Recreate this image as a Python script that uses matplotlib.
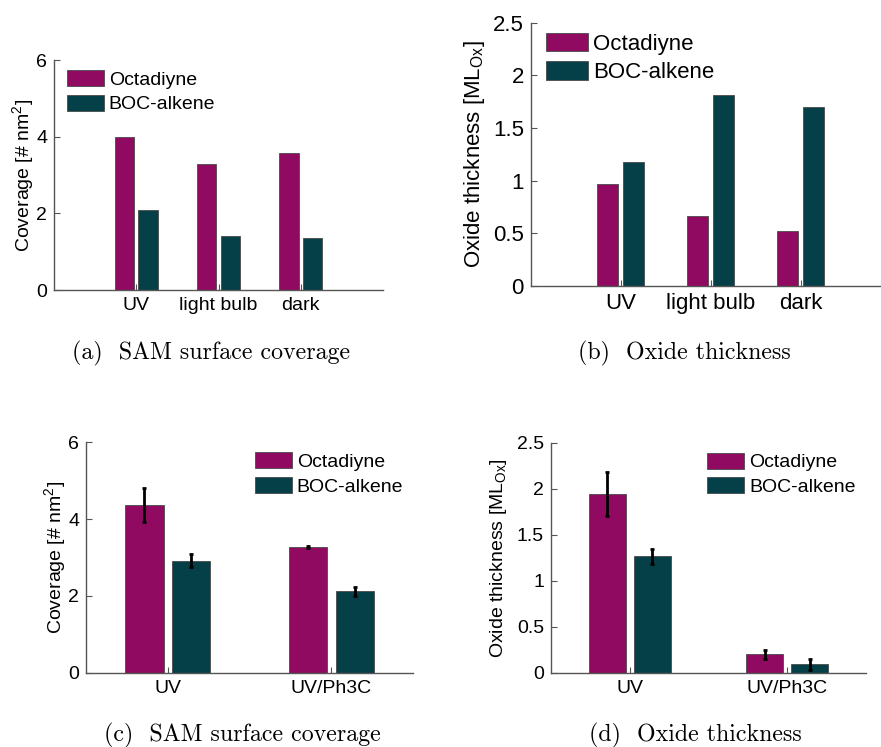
import matplotlib
matplotlib.use("Agg")
import matplotlib.pyplot as plt
import numpy as np

plt.rcParams["font.family"] = ["Liberation Sans", "DejaVu Sans"]
plt.rcParams["mathtext.fontset"] = "custom"
plt.rcParams["mathtext.rm"] = "Liberation Sans"
plt.rcParams["mathtext.it"] = "Liberation Sans:italic"

# Data
series = ["Octadiyne", "BOC-alkene"]
conds_top = ["UV", "light bulb", "dark"]
conds_bottom = ["UV", "UV/Ph3C"]

cov_top_octa = [4.0, 3.30, 3.58]
cov_top_boc = [2.10, 1.40, 1.36]

ox_top_octa = [0.97, 0.665, 0.52]
ox_top_boc = [1.18, 1.81, 1.70]

cov_bot_octa = [4.37, 3.27]
cov_bot_octa_err = [0.45, 0.03]
cov_bot_boc = [2.92, 2.12]
cov_bot_boc_err = [0.17, 0.11]

ox_bot_octa = [1.94, 0.20]
ox_bot_octa_err = [0.24, 0.05]
ox_bot_boc = [1.265, 0.09]
ox_bot_boc_err = [0.08, 0.06]

C_OCTA = "#8f0a60"
C_BOC = "#053f48"
AX_COLOR = "#555555"

fig = plt.figure(figsize=(8.81, 7.47), dpi=100)

W, H = 881.0, 747.0


def add_axes(left, right, top, bottom):
    return fig.add_axes([left / W, (H - bottom) / H, (right - left) / W, (bottom - top) / H])


def style(ax, fs):
    for s in ("top", "right"):
        ax.spines[s].set_visible(False)
    for s in ("left", "bottom"):
        ax.spines[s].set_color(AX_COLOR)
        ax.spines[s].set_linewidth(1.0)
    ax.tick_params(direction="in", length=4, width=0.8, color=AX_COLOR,
                   labelsize=fs, pad=5)


def draw(ax, cats, a, b, ea=None, eb=None, fs=14):
    x = np.arange(1, len(cats) + 1)
    w, off = 0.235, 0.143
    ax.bar(x - off, a, w, color=C_OCTA, edgecolor="#4a4a4a", linewidth=0.6, label=series[0])
    ax.bar(x + off, b, w, color=C_BOC, edgecolor="#4a4a4a", linewidth=0.6, label=series[1])
    if ea is not None:
        ax.errorbar(x - off, a, yerr=ea, fmt="none", ecolor="black", elinewidth=2.0,
                    capsize=1.5, capthick=2.0)
        ax.errorbar(x + off, b, yerr=eb, fmt="none", ecolor="black", elinewidth=2.0,
                    capsize=1.5, capthick=2.0)
    ax.set_xticks(x)
    ax.set_xticklabels(cats)
    style(ax, fs)


def legend(ax, fs, loc, anchor):
    ax.legend(loc=loc, bbox_to_anchor=anchor, frameon=False, fontsize=fs,
              handlelength=1.9, handleheight=0.9, handletextpad=0.25,
              labelspacing=0.3, borderaxespad=0.0, borderpad=0.0)


# (a) SAM surface coverage, three conditions
ax_a = add_axes(54, 383, 60, 290)
draw(ax_a, conds_top, cov_top_octa, cov_top_boc, fs=14)
ax_a.set_xlim(0, 4)
ax_a.set_ylim(0, 6)
ax_a.set_yticks([0, 2, 4, 6])
ax_a.set_ylabel(r"Coverage [# nm$^2$]", fontsize=14, labelpad=0)
legend(ax_a, 14, "upper left", (13 / 329, 1 - 10 / 230))

# (b) Oxide thickness, three conditions
ax_b = add_axes(530.7, 890.7, 22.7, 286)
draw(ax_b, conds_top, ox_top_octa, ox_top_boc, fs=16)
ax_b.set_xlim(0, 4)
ax_b.set_ylim(0, 2.5)
ax_b.set_yticks([0, 0.5, 1, 1.5, 2, 2.5])
ax_b.set_yticklabels(["0", "0.5", "1", "1.5", "2", "2.5"])
ax_b.set_ylabel(r"Oxide thickness [ML$_{\mathrm{Ox}}$]", fontsize=16, labelpad=4)
ax_b.yaxis.label.set_fontsize(16)
legend(ax_b, 16, "upper left", (15 / 360, 1 - 10 / 263.3))

# (c) SAM surface coverage with error bars
ax_c = add_axes(86, 413.3, 442.3, 672.7)
draw(ax_c, conds_bottom, cov_bot_octa, cov_bot_boc, cov_bot_octa_err, cov_bot_boc_err, fs=14)
ax_c.set_xlim(0.5, 2.5)
ax_c.set_ylim(0, 6)
ax_c.set_yticks([0, 2, 4, 6])
ax_c.set_ylabel(r"Coverage [# nm$^2$]", fontsize=14, labelpad=0)
legend(ax_c, 14, "upper right", (1 - 10 / 327.3, 1 - 10 / 230.4))

# (d) Oxide thickness with error bars
ax_d = add_axes(551, 865.7, 442.7, 672.7)
draw(ax_d, conds_bottom, ox_bot_octa, ox_bot_boc, ox_bot_octa_err, ox_bot_boc_err, fs=14)
ax_d.set_xlim(0.5, 2.5)
ax_d.set_ylim(0, 2.5)
ax_d.set_yticks([0, 0.5, 1, 1.5, 2, 2.5])
ax_d.set_yticklabels(["0", "0.5", "1", "1.5", "2", "2.5"])
ax_d.set_ylabel(r"Oxide thickness [ML$_{\mathrm{Ox}}$]", fontsize=14, labelpad=6)
legend(ax_d, 14, "upper right", (1 - 10 / 314.7, 1 - 10 / 230))

# Sub-figure captions
cap_kw = dict(family="cmr10", fontsize=17.2, ha="center", va="center")
fig.text(211 / W, 1 - 353 / H, "(a)  SAM surface coverage", **cap_kw)
fig.text(684 / W, 1 - 353 / H, "(b)  Oxide thickness", **cap_kw)
fig.text(242.5 / W, 1 - 735 / H, "(c)  SAM surface coverage", **cap_kw)
fig.text(695 / W, 1 - 735 / H, "(d)  Oxide thickness", **cap_kw)

fig.savefig("out.png", dpi=100)
